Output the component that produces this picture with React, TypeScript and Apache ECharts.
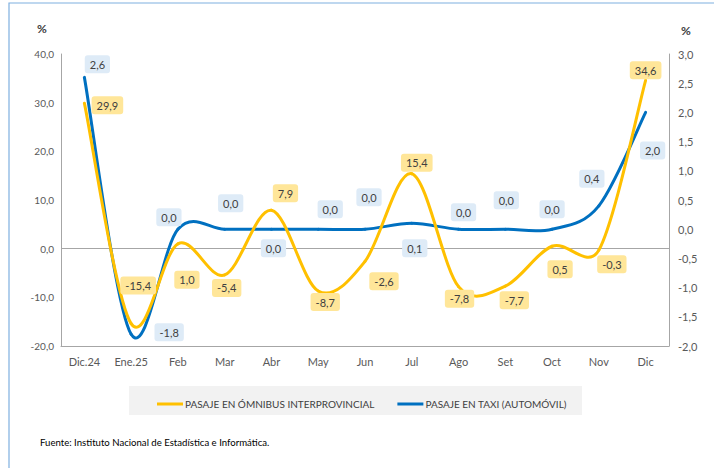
import React, { useEffect, useRef } from "react";
import * as echarts from "echarts";

const categories = ["Dic.24", "Ene.25", "Feb", "Mar", "Abr", "May", "Jun", "Jul", "Ago", "Set", "Oct", "Nov", "Dic"];
const omnibus = [29.9, -15.4, 1.0, -5.4, 7.9, -8.7, -2.6, 15.4, -7.8, -7.7, 0.5, -0.3, 34.6];
const taxi = [2.6, -1.8, 0.0, 0.0, 0.0, 0.0, 0.0, 0.1, 0.0, 0.0, 0.0, 0.4, 2.0];
const leftTicks = { min: -20, max: 40, interval: 10 };
const rightTicks = { min: -2, max: 3, interval: 0.5 };
const seriesNames = ["PASAJE EN ÓMNIBUS INTERPROVINCIAL", "PASAJE EN TAXI (AUTOMÓVIL)"];
const seriesColors = ["#FFC000", "#0070C0"];
const sourceText = "Fuente: Instituto Nacional de Estadística e Informática.";

// label callout offsets (layout only)
const omnibusLabelOffsets = [[23, 2], [7, -38], [9, 36], [2, 13], [14, -17], [7, 11], [19, 20], [5, -11], [1, 12], [9, 14], [8, 23], [13, 14], [0, -10]];
const taxiLabelOffsets = [[13, -13], [38, -2], [-9, -12], [6, -26], [2, 19], [12, -20], [4, -32], [3, 25], [5, -17], [1, -29], [0, -20], [-7, -27], [7, 38]];

const fmt = (v: number) => v.toFixed(1).replace(".", ",");
const FONT = "Lato, 'Open Sans', sans-serif";

// Excel-like smoothed curve: Catmull-Rom style bezier segments in pixel space
function makeCurveRenderer(values: number[], color: string) {
  return (params: any, api: any) => {
    const i = params.dataIndex;
    const n = values.length;
    if (i >= n - 1) return null;
    const pt = (j: number) => {
      const k = Math.max(0, Math.min(n - 1, j));
      return api.coord([k, values[k]]);
    };
    const p0 = pt(i - 1);
    const p1 = pt(i);
    const p2 = pt(i + 1);
    const p3 = pt(i + 2);
    const segLen = Math.hypot(p2[0] - p1[0], p2[1] - p1[1]);
    const tangent = (a: number[], b: number[]) => {
      let vx = (b[0] - a[0]) / 6;
      let vy = (b[1] - a[1]) / 6;
      const len = Math.hypot(vx, vy);
      const maxLen = segLen / 2;
      if (len > maxLen && len > 0) {
        vx *= maxLen / len;
        vy *= maxLen / len;
      }
      return [vx, vy];
    };
    const t1 = tangent(p0, p2);
    const t2 = tangent(p1, p3);
    return {
      type: "bezierCurve",
      shape: {
        x1: p1[0], y1: p1[1],
        cpx1: p1[0] + t1[0], cpy1: p1[1] + t1[1],
        cpx2: p2[0] - t2[0], cpy2: p2[1] - t2[1],
        x2: p2[0], y2: p2[1],
      },
      style: { stroke: color, lineWidth: 3, fill: null, lineCap: "round" },
    };
  };
}

export default function App() {
  const ref = useRef<HTMLDivElement>(null);
  useEffect(() => {
    if (!ref.current) return;
    const chart = echarts.init(ref.current, undefined, { renderer: "svg" });
    const mkData = (vals: number[], offs: number[][]) =>
      vals.map((v, i) => ({ value: v, label: { offset: offs[i] } }));
    const labelBase = (bg: string) => ({
      show: true,
      position: "inside",
      formatter: (p: any) => fmt(p.value),
      backgroundColor: bg,
      color: "#404040",
      fontSize: 11,
      fontFamily: FONT,
      padding: [4, 5, 3, 5],
      borderRadius: 3,
    });
    chart.setOption({
      animation: false,
      textStyle: { fontFamily: FONT },
      grid: { left: 61, right: 45, top: 54, bottom: 122, containLabel: false },
      graphic: [
        { type: "rect", shape: { x: 9, y: 3, width: 760, height: 520 }, style: { fill: "none", stroke: "#7fb0e0", lineWidth: 1.2 }, silent: true },
        { type: "rect", shape: { x: 129, y: 386, width: 453, height: 29 }, style: { fill: "#f2f2f2" }, z: -1, silent: true },
        { type: "text", left: 37, top: 22, style: { text: "%", fontSize: 12, fontWeight: "bold", fill: "#404040", fontFamily: FONT } },
        { type: "text", left: 681, top: 24, style: { text: "%", fontSize: 12, fontWeight: "bold", fill: "#404040", fontFamily: FONT } },
        { type: "text", left: 40, top: 437, style: { text: sourceText, fontSize: 9.6, fill: "#000000", fontFamily: FONT } },
      ],
      legend: {
        left: 152,
        top: 394,
        itemGap: 23,
        itemWidth: 26,
        itemHeight: 3,
        icon: "rect",
        textStyle: { color: "#404040", fontSize: 10, fontFamily: FONT, padding: [0, 0, 0, -3] },
        data: seriesNames.map((name, i) => ({ name, itemStyle: { color: seriesColors[i] } })),
      },
      xAxis: {
        type: "category",
        data: categories,
        boundaryGap: true,
        axisLine: { onZero: false, lineStyle: { color: "#a6a6a6", width: 1 } },
        axisTick: { show: false },
        axisLabel: { color: "#595959", fontSize: 11, margin: 10, fontFamily: FONT },
      },
      yAxis: [
        {
          type: "value",
          ...leftTicks,
          axisLine: { show: true, lineStyle: { color: "#a6a6a6" } },
          axisTick: { show: false },
          splitLine: { show: false },
          axisLabel: { color: "#595959", fontSize: 10, margin: 7, formatter: fmt, fontFamily: FONT },
        },
        {
          type: "value",
          ...rightTicks,
          position: "right",
          axisLine: { show: true, lineStyle: { color: "#a6a6a6" } },
          axisTick: { show: false },
          splitLine: { show: false },
          axisLabel: { color: "#595959", fontSize: 11, margin: 9, formatter: fmt, fontFamily: FONT },
        },
      ],
      series: [
        {
          name: "curve-taxi",
          type: "custom",
          yAxisIndex: 1,
          data: taxi.map((v, i) => [i, v]),
          encode: { x: 0, y: 1 },
          renderItem: makeCurveRenderer(taxi, seriesColors[1]),
          z: 2,
          silent: true,
        },
        {
          name: "curve-omnibus",
          type: "custom",
          yAxisIndex: 0,
          data: omnibus.map((v, i) => [i, v]),
          encode: { x: 0, y: 1 },
          renderItem: makeCurveRenderer(omnibus, seriesColors[0]),
          z: 3,
          silent: true,
        },
        {
          name: seriesNames[0],
          type: "line",
          yAxisIndex: 0,
          data: mkData(omnibus, omnibusLabelOffsets),
          symbol: "circle",
          symbolSize: 0,
          showSymbol: true,
          lineStyle: { color: seriesColors[0], width: 0, opacity: 0 },
          itemStyle: { color: seriesColors[0] },
          label: labelBase("#FFE699"),
          z: 5,
          markLine: {
            silent: true,
            symbol: "none",
            label: { show: false },
            lineStyle: { color: "#a6a6a6", type: "solid", width: 1 },
            data: [{ yAxis: 0 }],
            z: 1,
          },
        },
        {
          name: seriesNames[1],
          type: "line",
          yAxisIndex: 1,
          data: mkData(taxi, taxiLabelOffsets),
          symbol: "circle",
          symbolSize: 0,
          showSymbol: true,
          lineStyle: { color: seriesColors[1], width: 0, opacity: 0 },
          itemStyle: { color: seriesColors[1] },
          label: labelBase("#DEEBF7"),
          z: 5,
        },
      ],
    });
    return () => chart.dispose();
  }, []);
  return <div ref={ref} style={{ position: "fixed", left: 0, top: 0, width: 714, height: 468, background: "#fff" }} />;
}
